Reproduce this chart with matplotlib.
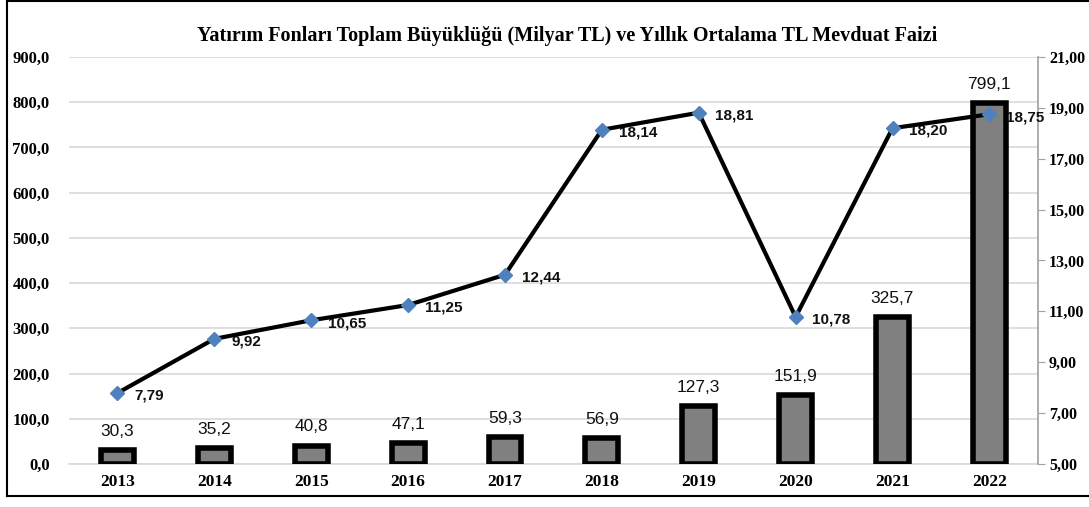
import matplotlib
matplotlib.use("Agg")
import matplotlib.pyplot as plt
from matplotlib.lines import Line2D

years = ["2013", "2014", "2015", "2016", "2017", "2018", "2019", "2020", "2021", "2022"]
fund_size = [30.3, 35.2, 40.8, 47.1, 59.3, 56.9, 127.3, 151.9, 325.7, 799.1]
deposit_rate = [7.79, 9.92, 10.65, 11.25, 12.44, 18.14, 18.81, 10.78, 18.20, 18.75]
left_ticks = [0, 100, 200, 300, 400, 500, 600, 700, 800, 900]
right_ticks = [5, 7, 9, 11, 13, 15, 17, 19, 21]

def tr(v, d):
    return f"{v:.{d}f}".replace(".", ",")

serif = "Liberation Serif"
sans = "Liberation Sans"

fig = plt.figure(figsize=(10.89, 5.07), dpi=100)
ax = fig.add_axes([0.0634, 0.0848, 0.8896, 0.8028])
x = list(range(len(years)))

ax.bar(x, fund_size, width=0.34, color="#808080", edgecolor="black", linewidth=4, zorder=3)
for xi, v in zip(x, fund_size):
    ax.annotate(tr(v, 1), (xi, v), xytext=(0, 8), textcoords="offset points",
                ha="center", va="bottom", fontsize=12.5, family=sans, color="#111111")

ax.set_xlim(-0.5, len(years) - 0.5)
ax.set_ylim(0, 900)
ax.set_yticks(left_ticks)
ax.set_yticklabels([tr(t, 1) for t in left_ticks], family=serif, fontweight="bold", fontsize=12)
ax.set_xticks(x)
ax.set_xticklabels(years, family=serif, fontweight="bold", fontsize=12.5)
ax.tick_params(axis="x", length=0, pad=7)
ax.tick_params(axis="y", length=0, pad=14)
ax.grid(axis="y", color="#d9d9d9", linewidth=1.2, zorder=0)
for s in ["left", "right", "top"]:
    ax.spines[s].set_visible(False)
ax.spines["bottom"].set_color("#d9d9d9")
ax.spines["bottom"].set_linewidth(1.2)

ax2 = ax.twinx()
ax2.set_ylim(5, 21)
ax2.set_yticks(right_ticks)
ax2.set_yticklabels([tr(t, 2) for t in right_ticks], family=serif, fontweight="bold", fontsize=11.5)
ax2.tick_params(axis="y", length=5, color="#a0a0a0", pad=3)
for s in ["left", "top", "bottom"]:
    ax2.spines[s].set_visible(False)
ax2.spines["right"].set_color("#a0a0a0")
ax2.spines["right"].set_linewidth(1.2)
ax2.plot(x, deposit_rate, color="black", linewidth=3, marker="D", markersize=7,
         markerfacecolor="#4f81bd", markeredgecolor="#4f81bd", zorder=4)
for xi, v in zip(x, deposit_rate):
    ax2.annotate(tr(v, 2), (xi, v), xytext=(12, -2), textcoords="offset points",
                 ha="left", va="center", fontsize=11, family=sans, fontweight="bold", color="#111111")

fig.text(0.521, 0.929, "Yatırım Fonları Toplam Büyüklüğü (Milyar TL) ve Yıllık Ortalama TL Mevduat Faizi",
         ha="center", va="center", family=serif, fontweight="bold", fontsize=14.5)

# outer border
fig.add_artist(Line2D([0.0065, 0.0065], [0.022, 0.998], transform=fig.transFigure, color="black", linewidth=1.5))
fig.add_artist(Line2D([0.0065, 1.0], [0.998, 0.998], transform=fig.transFigure, color="black", linewidth=1.5))
fig.add_artist(Line2D([0.0065, 1.0], [0.022, 0.022], transform=fig.transFigure, color="black", linewidth=1.5))

fig.savefig("out.png", dpi=100)
